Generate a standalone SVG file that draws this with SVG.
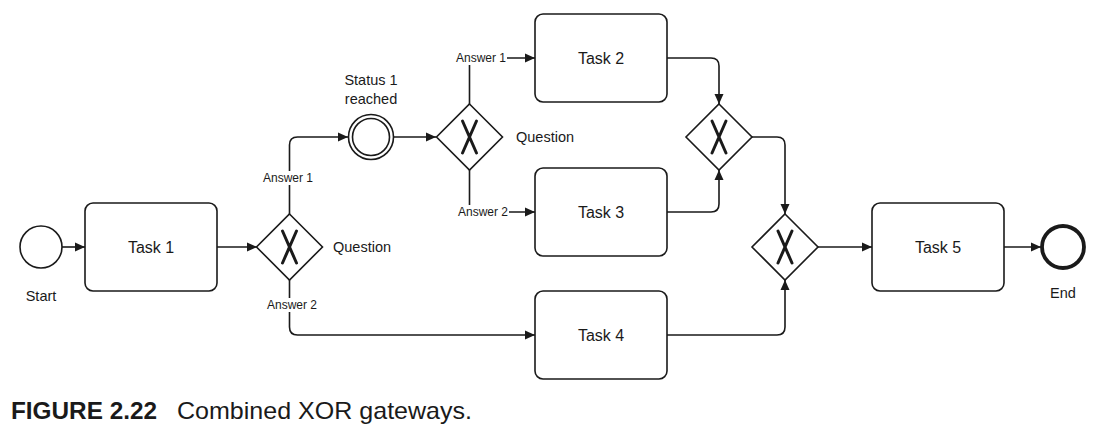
<svg xmlns="http://www.w3.org/2000/svg" width="1101" height="429" viewBox="0 0 1101 429">
<style>
.task{fill:#fff;stroke:#1a1a1a;stroke-width:1.6}
.gw{fill:#fff;stroke:#1a1a1a;stroke-width:1.6}
.xm{fill:none;stroke:#1a1a1a;stroke-width:3;stroke-linecap:round}
.ev{fill:#fff;stroke:#1a1a1a;stroke-width:1.6}
.flow{fill:none;stroke:#1a1a1a;stroke-width:1.6;marker-end:url(#arr)}
.t16{font-family:"Liberation Sans",Arial,sans-serif;font-size:16px;fill:#1a1a1a;text-anchor:middle}
.t14{font-family:"Liberation Sans",Arial,sans-serif;font-size:14.5px;fill:#1a1a1a}
.t12{font-family:"Liberation Sans",Arial,sans-serif;font-size:12px;fill:#1a1a1a;text-anchor:middle}
.lbg{fill:#fff}
.cap{font-family:"Liberation Sans",Arial,sans-serif;font-size:24px;fill:#1a1a1a}
</style>
<defs>
<marker id="arr" viewBox="0 0 10 10" refX="10" refY="5" markerWidth="10" markerHeight="10" markerUnits="userSpaceOnUse" orient="auto">
<path d="M0,0.5 L10,5 L0,9.5 Z" fill="#1a1a1a"/>
</marker>
</defs>
<g id="connectors">
<path class="flow" d="M62,247 H85"/>
<path class="flow" d="M217,247 H257"/>
<path class="flow" d="M289.5,214 V145 Q289.5,137 297.5,137 H348"/>
<path class="flow" d="M394,137 H436"/>
<path class="flow" d="M469.5,104 V58 H535"/>
<path class="flow" d="M469.5,170 V212 H535"/>
<path class="flow" d="M667,58 H711 Q719,58 719,66 V104"/>
<path class="flow" d="M667,212 H711 Q719,212 719,204 V170"/>
<path class="flow" d="M752,137 H777 Q785,137 785,145 V214"/>
<path class="flow" d="M289.5,280 V327 Q289.5,335 297.5,335 H535"/>
<path class="flow" d="M667,335 H777 Q785,335 785,327 V280"/>
<path class="flow" d="M818,247 H872"/>
<path class="flow" d="M1004,247 H1041"/>
</g>
<g id="labels">
<rect class="lbg" x="261" y="171" width="54" height="14"/>
<text class="t12" x="288" y="182">Answer 1</text>
<rect class="lbg" x="265" y="298" width="55" height="14"/>
<text class="t12" x="292" y="309">Answer 2</text>
<rect class="lbg" x="454" y="51" width="53" height="14"/>
<text class="t12" x="481" y="62">Answer 1</text>
<rect class="lbg" x="456" y="205" width="53" height="14"/>
<text class="t12" x="483" y="216">Answer 2</text>
</g>
<g id="start">
<circle class="ev" cx="41" cy="247" r="21"/>
<text class="t14" x="41" y="301" text-anchor="middle">Start</text>
</g>
<g id="task1">
<rect class="task" x="85" y="203" width="132" height="88" rx="8"/>
<text class="t16" x="151" y="253">Task 1</text>
</g>
<g id="gateway1">
<path class="gw" d="M289.5,214 L322.5,247 L289.5,280 L256.5,247 Z"/>
<path class="xm" d="M282.5,231 L296.5,263 M296.5,231 L282.5,263"/>
<text class="t14" x="333" y="252">Question</text>
</g>
<g id="status1">
<circle class="ev" cx="371" cy="137" r="22.5"/>
<circle class="ev" cx="371" cy="137" r="18.5"/>
<text class="t14" x="371" y="85" text-anchor="middle">Status 1</text>
<text class="t14" x="371" y="104" text-anchor="middle">reached</text>
</g>
<g id="gateway2">
<path class="gw" d="M469.5,104 L502.5,137 L469.5,170 L436.5,137 Z"/>
<path class="xm" d="M462.5,121 L476.5,153 M476.5,121 L462.5,153"/>
<text class="t14" x="516" y="142">Question</text>
</g>
<g id="task2">
<rect class="task" x="535" y="14" width="132" height="88" rx="8"/>
<text class="t16" x="601" y="64">Task 2</text>
</g>
<g id="task3">
<rect class="task" x="535" y="168" width="132" height="88" rx="8"/>
<text class="t16" x="601" y="218">Task 3</text>
</g>
<g id="task4">
<rect class="task" x="535" y="291" width="132" height="88" rx="8"/>
<text class="t16" x="601" y="341">Task 4</text>
</g>
<g id="gateway3">
<path class="gw" d="M719,104 L752,137 L719,170 L686,137 Z"/>
<path class="xm" d="M712,121 L726,153 M726,121 L712,153"/>
</g>
<g id="gateway4">
<path class="gw" d="M785,214 L818,247 L785,280 L752,247 Z"/>
<path class="xm" d="M778,231 L792,263 M792,231 L778,263"/>
</g>
<g id="task5">
<rect class="task" x="872" y="203" width="132" height="88" rx="8"/>
<text class="t16" x="938" y="253">Task 5</text>
</g>
<g id="end">
<circle cx="1063" cy="247" r="21" fill="#fff" stroke="#1a1a1a" stroke-width="3.8"/>
<text class="t14" x="1063" y="298" text-anchor="middle">End</text>
</g>
<g id="caption">
<text class="cap" x="11" y="419" font-weight="bold" textLength="146" lengthAdjust="spacingAndGlyphs">FIGURE 2.22</text>
<text class="cap" x="177" y="419" textLength="295" lengthAdjust="spacingAndGlyphs">Combined XOR gateways.</text>
</g>
</svg>
